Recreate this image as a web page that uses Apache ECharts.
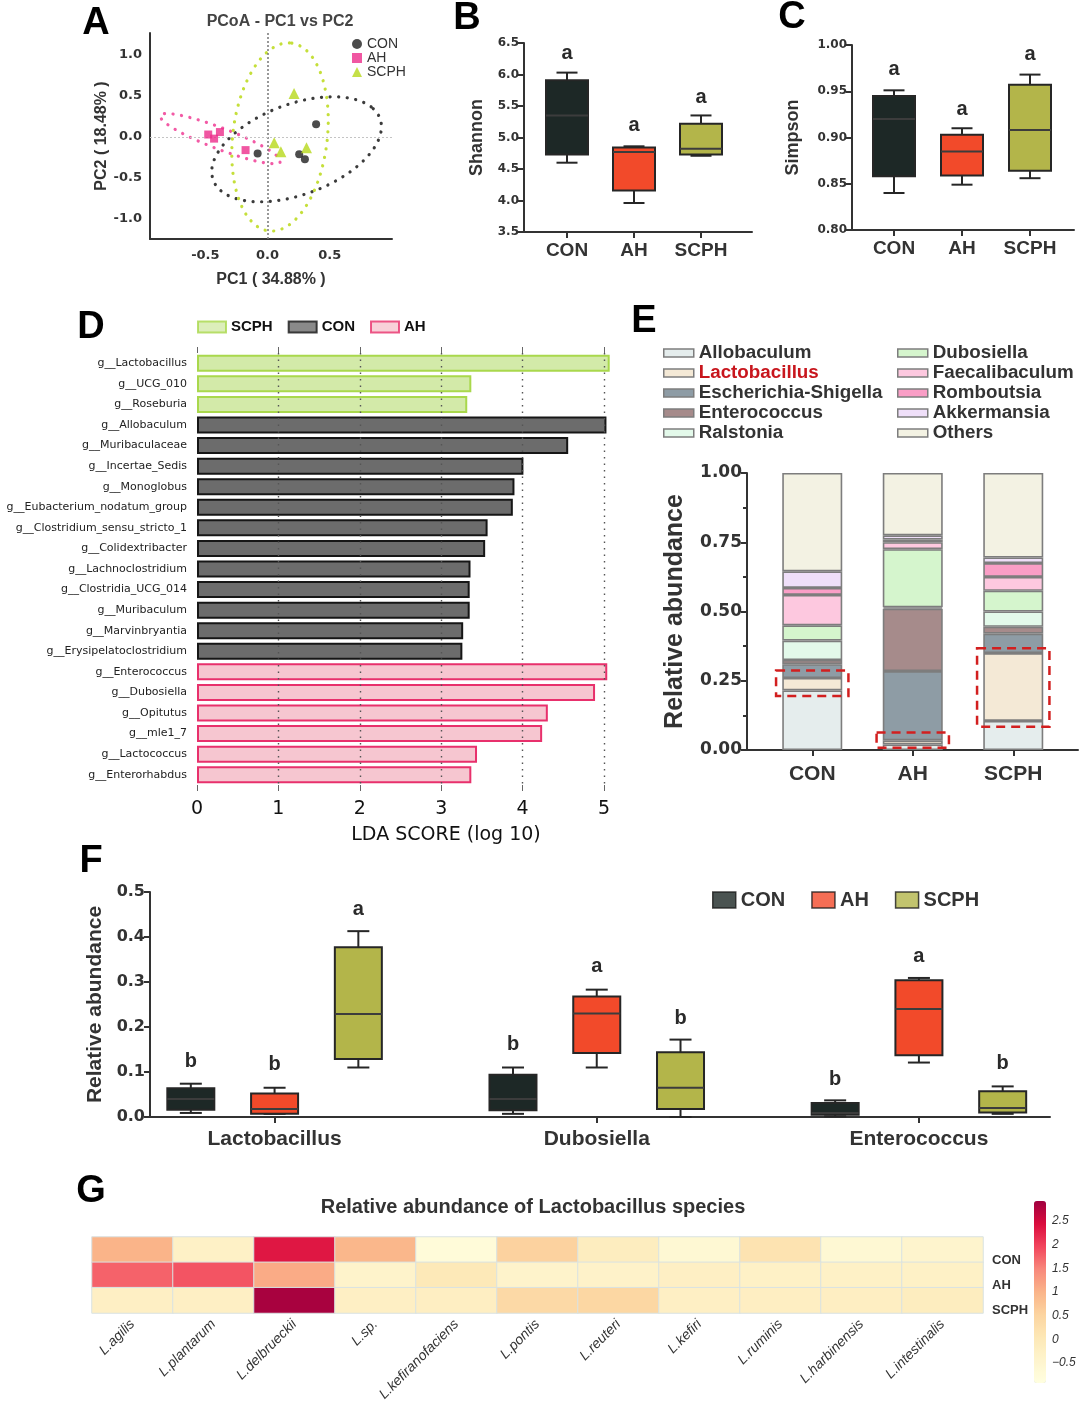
<!DOCTYPE html>
<html><head><meta charset="utf-8">
<script src="https://cdn.jsdelivr.net/npm/echarts@6/dist/echarts.min.js"></script>
<style>html,body{margin:0;padding:0;background:#fff}#c{width:1080px;height:1407px}</style>
</head><body><div id="c"></div>
<script>
// ================= DATA =================
const groups = ['CON', 'AH', 'SCPH'];

// A: PCoA sample scores [PC1, PC2]
const pcoaCON = [[0.39, 0.155], [-0.08, -0.20], [0.254, -0.21], [0.30, -0.27]];
const pcoaAH = [[-0.477, 0.03], [-0.43, -0.02], [-0.383, 0.06], [-0.177, -0.16]];
const pcoaSCPH = [[0.213, 0.53], [0.053, -0.07], [0.107, -0.18], [0.313, -0.13]];
// confidence ellipses: [centerX, centerY, semiMajor, semiMinor, angleDeg]
const ellipseCON = [0.233, -0.15, 0.792, 0.498, 40.8];
const ellipseAH = [-0.38, -0.02, 0.56, 0.12, -31];
const ellipseSCPH = [0.1, 0.0, 1.15, 0.381, 86.2];

// B: Shannon [min, q1, median, q3, max]
const shannonBox = [[4.60, 4.73, 5.35, 5.91, 6.03], [3.96, 4.16, 4.77, 4.84, 4.86], [4.71, 4.73, 4.82, 5.22, 5.35]];
const shannonLetters = ['a', 'a', 'a'];
const shannonLetterY = [6.34, 5.19, 5.64];
// C: Simpson
const simpsonBox = [[0.840, 0.858, 0.920, 0.945, 0.951], [0.849, 0.859, 0.885, 0.903, 0.910], [0.856, 0.864, 0.908, 0.957, 0.968]];
const simpsonLetters = ['a', 'a', 'a'];
const simpsonLetterY = [0.973, 0.930, 0.990];

// D: LEfSe LDA scores
const ldaTaxa = ['g__Lactobacillus', 'g__UCG_010', 'g__Roseburia', 'g__Allobaculum', 'g__Muribaculaceae', 'g__Incertae_Sedis',
  'g__Monoglobus', 'g__Eubacterium_nodatum_group', 'g__Clostridium_sensu_stricto_1', 'g__Colidextribacter', 'g__Lachnoclostridium',
  'g__Clostridia_UCG_014', 'g__Muribaculum', 'g__Marvinbryantia', 'g__Erysipelatoclostridium', 'g__Enterococcus', 'g__Dubosiella',
  'g__Opitutus', 'g__mle1_7', 'g__Lactococcus', 'g__Enterorhabdus'];
const ldaScores = [5.07, 3.37, 3.32, 5.03, 4.56, 4.01, 3.90, 3.88, 3.57, 3.54, 3.36, 3.35, 3.35, 3.27, 3.26, 5.04, 4.89, 4.31, 4.24, 3.44, 3.37];
const ldaGroup = ['SCPH', 'SCPH', 'SCPH', 'CON', 'CON', 'CON', 'CON', 'CON', 'CON', 'CON', 'CON', 'CON', 'CON', 'CON', 'CON',
  'AH', 'AH', 'AH', 'AH', 'AH', 'AH'];
const ldaLegend = ['SCPH', 'CON', 'AH'];
const ldaTicks = [0, 1, 2, 3, 4, 5];

// E: relative abundance at genus level (per genus, bottom to top)
const genera = ['Allobaculum', 'Lactobacillus', 'Escherichia-Shigella', 'Enterococcus', 'Ralstonia',
  'Dubosiella', 'Faecalibaculum', 'Romboutsia', 'Akkermansia', 'Others'];
const abundCON = [0.215, 0.045, 0.050, 0.015, 0.070, 0.055, 0.110, 0.025, 0.060, 0.355];
const abundAH = [0.020, 0.015, 0.250, 0.225, 0.005, 0.210, 0.025, 0.010, 0.015, 0.225];
const abundSCPH = [0.105, 0.245, 0.070, 0.025, 0.055, 0.075, 0.050, 0.050, 0.020, 0.305];
// Lactobacillus highlight boxes: [groupIndex, low, high]
const highlightBoxes = [[0, 0.195, 0.287], [1, 0.008, 0.063], [2, 0.084, 0.367]];

// F: relative abundance boxes [min, q1, median, q3, max] per genus
const fGenera = ['Lactobacillus', 'Dubosiella', 'Enterococcus'];
const fCON = [[0.009, 0.016, 0.040, 0.064, 0.074], [0.007, 0.015, 0.040, 0.094, 0.110], [0.0015, 0.005, 0.009, 0.031, 0.037]];
const fAH = [[0.007, 0.007, 0.018, 0.052, 0.065], [0.110, 0.142, 0.230, 0.268, 0.283], [0.121, 0.137, 0.240, 0.304, 0.309]];
const fSCPH = [[0.110, 0.129, 0.229, 0.377, 0.413], [0.000, 0.018, 0.065, 0.144, 0.172], [0.007, 0.010, 0.020, 0.057, 0.068]];
const fLettersCON = ['b', 'b', 'b'];
const fLettersAH = ['b', 'a', 'a'];
const fLettersSCPH = ['a', 'b', 'b'];
const fLetterYCON = [0.124, 0.161, 0.083];
const fLetterYAH = [0.116, 0.335, 0.357];
const fLetterYSCPH = [0.462, 0.220, 0.118];

// G: heatmap (z-scores)
const species = ['L.agilis', 'L.plantarum', 'L.delbrueckii', 'L.sp.', 'L.kefiranofaciens', 'L.pontis', 'L.reuteri',
  'L.kefiri', 'L.ruminis', 'L.harbinensis', 'L.intestinalis'];
const heatRows = ['CON', 'AH', 'SCPH'];
const heatCON = [1.0, -0.3, 2.35, 0.95, -0.75, 0.55, -0.15, -0.6, 0.15, -0.6, -0.45];
const heatAH = [1.75, 1.85, 1.1, -0.4, 0.0, -0.4, -0.35, -0.25, -0.3, -0.3, -0.3];
const heatSCPH = [-0.25, -0.25, 2.85, -0.25, -0.2, 0.4, 0.45, -0.25, -0.2, -0.2, -0.15];
const heatMin = -0.92, heatMax = 2.92;

// ================= STYLE =================
const FA = '"Liberation Sans", Arial, sans-serif';
const FD = '"DejaVu Sans", sans-serif';
const groupColors = ['#1d2826', '#f24a2a', '#b3b54a'];
const ldaStyles = {
  SCPH: { color: '#d3eaa9', borderColor: '#a9d84c' },
  CON: { color: '#6c6c6c', borderColor: '#161616' },
  AH: { color: '#f6c6d0', borderColor: '#e8306c' }
};
const generaColors = ['#e5eded', '#f4e9d6', '#8e9ca5', '#a68b8b', '#e3f9ea', '#d5f5cd', '#fdc8df', '#fa9ec6', '#efdff9', '#f3f2e3'];
const heatColors = ['#ffffe0', '#fef4cd', '#fde8b6', '#fcd4a0', '#fab489', '#f8887b', '#f2445c', '#da0c3d', '#a0003f'];
const AX = '#333';

// ================= HELPERS =================
function ellipsePts(p) {
  const [cx, cy, a, b, deg] = p, th = deg * Math.PI / 180, pts = [];
  for (let k = 0; k <= 144; k++) {
    const t = 2 * Math.PI * k / 144;
    pts.push([cx + a * Math.cos(t) * Math.cos(th) - b * Math.sin(t) * Math.sin(th),
              cy + a * Math.cos(t) * Math.sin(th) + b * Math.sin(t) * Math.cos(th)]);
  }
  return pts;
}
function boxRender(colors, offset, boxW, capW) {
  return function (params, api) {
    const ci = api.value(0);
    const band = api.size([1, 0])[0];
    const x = api.coord([ci, api.value(3)])[0] + offset * band;
    const y = v => api.coord([ci, v])[1];
    const lo = y(api.value(1)), q1 = y(api.value(2)), md = y(api.value(3)), q3 = y(api.value(4)), hi = y(api.value(5));
    const fill = Array.isArray(colors) ? colors[params.dataIndex] : colors;
    const st = { stroke: '#262626', lineWidth: 2 };
    return { type: 'group', children: [
      { type: 'line', shape: { x1: x, y1: hi, x2: x, y2: q3 }, style: st },
      { type: 'line', shape: { x1: x, y1: q1, x2: x, y2: lo }, style: st },
      { type: 'line', shape: { x1: x - capW / 2, y1: hi, x2: x + capW / 2, y2: hi }, style: st },
      { type: 'line', shape: { x1: x - capW / 2, y1: lo, x2: x + capW / 2, y2: lo }, style: st },
      { type: 'rect', shape: { x: x - boxW / 2, y: q3, width: boxW, height: Math.max(q1 - q3, 1) }, style: { fill: fill, stroke: '#262626', lineWidth: 2 } },
      { type: 'line', shape: { x1: x - boxW / 2, y1: md, x2: x + boxW / 2, y2: md }, style: { stroke: '#3c3c3c', lineWidth: 2 } }
    ] };
  };
}
function letterRender(letters, offset, size) {
  return function (params, api) {
    const ci = api.value(0);
    const band = api.size([1, 0])[0];
    const p = api.coord([ci, api.value(1)]);
    return { type: 'text', x: p[0] + offset * band, y: p[1],
      style: { text: letters[params.dataIndex], fontSize: size, fontWeight: 'bold', fontFamily: FA, fill: '#2a2a2a', align: 'center', verticalAlign: 'middle' } };
  };
}
function lineOnlyX(grid) {
  return { gridIndex: grid, type: 'value', min: 0, max: 1, axisLine: { show: true, onZero: false, lineStyle: { color: AX, width: 2 } },
    axisTick: { show: false }, axisLabel: { show: false }, splitLine: { show: false } };
}
function catX(grid, data, fs, margin) {
  return { gridIndex: grid, type: 'category', data: data, axisLine: { show: false },
    axisTick: { show: true, alignWithLabel: true, length: 6, lineStyle: { color: AX, width: 2 } },
    axisLabel: { fontFamily: FA, fontWeight: 'bold', fontSize: fs, color: AX, margin: margin, interval: 0 }, splitLine: { show: false } };
}
function valY(grid, min, max, interval, dec, name, lfs, nfs, gap, extra) {
  return Object.assign({ gridIndex: grid, type: 'value', min: min, max: max, interval: interval,
    axisLine: { show: true, onZero: false, lineStyle: { color: AX, width: 2 } },
    axisTick: { show: true, length: 6, lineStyle: { color: AX, width: 2 } },
    splitLine: { show: false },
    axisLabel: { fontFamily: FD, fontWeight: 'bold', fontSize: lfs, color: AX, margin: 5, formatter: v => v.toFixed(dec) },
    name: name, nameLocation: 'middle', nameGap: gap,
    nameTextStyle: { fontFamily: FA, fontWeight: 'bold', fontSize: nfs, color: AX } }, extra || {});
}
function hiddenY(grid, min, max) { return { gridIndex: grid, type: 'value', min: min, max: max, show: false }; }

// ================= SERIES =================
const series = [];
// A
[[ellipseCON, '#3b3b3b'], [ellipseAH, '#f25aa5'], [ellipseSCPH, '#c5df3a']].forEach(([p, c], i) => {
  series.push({ type: 'line', name: 'ellipse' + i, xAxisIndex: 0, yAxisIndex: 0, data: ellipsePts(p), showSymbol: false, symbol: 'none',
    silent: true, clip: false, z: 1, lineStyle: { color: c, width: 3.2, type: [0.1, 8.5], cap: 'round' } });
});
series.push({ type: 'scatter', name: 'CON', xAxisIndex: 0, yAxisIndex: 0, data: pcoaCON, symbol: 'circle', symbolSize: 8,
  itemStyle: { color: '#1f1f1f' }, z: 5,
  markLine: { silent: true, symbol: ['none', 'none'], label: { show: false }, animation: false,
    data: [{ xAxis: 0, lineStyle: { type: [2, 2], color: '#777', width: 1.5 } }, { yAxis: 0, lineStyle: { type: [2, 2], color: '#c4c4c4', width: 1.2 } }] } });
series.push({ type: 'scatter', name: 'AH', xAxisIndex: 0, yAxisIndex: 0, data: pcoaAH, symbol: 'rect', symbolSize: 8, itemStyle: { color: '#ec2d8b' }, z: 5 });
series.push({ type: 'scatter', name: 'SCPH', xAxisIndex: 0, yAxisIndex: 0, data: pcoaSCPH, symbol: 'triangle', symbolSize: 11, itemStyle: { color: '#b6d81a' }, z: 5 });

// B
series.push({ type: 'custom', name: 'Shannon', xAxisIndex: 2, yAxisIndex: 2, data: shannonBox.map((b, i) => [i, ...b]),
  encode: { x: 0, y: [1, 2, 3, 4, 5] }, renderItem: boxRender(groupColors, 0, 42, 21) });
series.push({ type: 'custom', name: 'ShannonLetters', xAxisIndex: 2, yAxisIndex: 2, data: shannonLetterY.map((v, i) => [i, v]),
  encode: { x: 0, y: 1 }, renderItem: letterRender(shannonLetters, 0, 20) });
// C
series.push({ type: 'custom', name: 'Simpson', xAxisIndex: 4, yAxisIndex: 4, data: simpsonBox.map((b, i) => [i, ...b]),
  encode: { x: 0, y: [1, 2, 3, 4, 5] }, renderItem: boxRender(groupColors, 0, 42, 21) });
series.push({ type: 'custom', name: 'SimpsonLetters', xAxisIndex: 4, yAxisIndex: 4, data: simpsonLetterY.map((v, i) => [i, v]),
  encode: { x: 0, y: 1 }, renderItem: letterRender(simpsonLetters, 0, 20) });

// D
ldaLegend.forEach((g, gi) => {
  const s = { type: 'bar', name: g, xAxisIndex: 5, yAxisIndex: 5, stack: 'lda', barWidth: 17, clip: false,
    data: ldaTaxa.map((t, i) => ldaGroup[i] === g ? ldaScores[i] : null),
    itemStyle: Object.assign({ borderWidth: 2 }, ldaStyles[g]) };
  if (gi === 0) {
    s.markLine = { silent: true, symbol: ['none', 'none'], label: { show: false }, animation: false, z: 10,
      lineStyle: { type: [1.5, 5], color: '#555', width: 1.4 },
      data: ldaTicks.slice(1).map(v => ({ xAxis: v })) };
  }
  series.push(s);
});

// E
genera.forEach((g, k) => {
  series.push({ type: 'bar', name: g, stack: 'abund', xAxisIndex: 8, yAxisIndex: 7, barWidth: 60,
    data: [abundCON[k], abundAH[k], abundSCPH[k]],
    itemStyle: { color: generaColors[k], borderColor: '#7d7d7d', borderWidth: 1.6 } });
});
series.push({ type: 'custom', name: 'highlight', xAxisIndex: 8, yAxisIndex: 7, data: highlightBoxes, encode: { x: 0, y: [1, 2] }, z: 10,
  renderItem: (params, api) => {
    const ci = api.value(0);
    const pHi = api.coord([ci, api.value(2)]), pLo = api.coord([ci, api.value(1)]);
    const w = api.size([1, 0])[0] * 0.72;
    return { type: 'rect', shape: { x: pHi[0] - w / 2, y: pHi[1], width: w, height: pLo[1] - pHi[1] },
      style: { fill: 'none', stroke: '#d21f1f', lineWidth: 2.5, lineDash: [9, 6] } };
  } });

// F
const fSets = [['CON', fCON, fLettersCON, fLetterYCON, -0.26], ['AH', fAH, fLettersAH, fLetterYAH, 0], ['SCPH', fSCPH, fLettersSCPH, fLetterYSCPH, 0.26]];
fSets.forEach(([name, boxes, letters, ly, off], gi) => {
  series.push({ type: 'custom', name: name, xAxisIndex: 10, yAxisIndex: 9, data: boxes.map((b, i) => [i, ...b]),
    encode: { x: 0, y: [1, 2, 3, 4, 5] }, renderItem: boxRender(groupColors[gi], off, 47, 22) });
  series.push({ type: 'custom', name: name + 'Letters', xAxisIndex: 10, yAxisIndex: 9, data: ly.map((v, i) => [i, v]),
    encode: { x: 0, y: 1 }, renderItem: letterRender(letters, off, 20) });
});

// G
const heatIndex = series.length;
const heatData = [];
[heatCON, heatAH, heatSCPH].forEach((row, r) => row.forEach((v, c) => heatData.push([c, r, v])));
series.push({ type: 'heatmap', name: 'heat', xAxisIndex: 11, yAxisIndex: 10, data: heatData,
  itemStyle: { borderColor: '#d9e2e2', borderWidth: 1 } });

// ================= OPTION =================
const letterStyle = { fontSize: 38, fontWeight: 'bold', fontFamily: FA, fill: '#000', align: 'center', verticalAlign: 'middle' };
const option = {
  animation: false,
  backgroundColor: '#fff',
  grid: [
    { left: 150, top: 33, width: 242, height: 206 },      // 0 A
    { left: 524, top: 43, width: 228, height: 189 },      // 1 B line
    { left: 533.5, top: 43, width: 201, height: 189 },    // 2 B cat
    { left: 852, top: 45, width: 222, height: 185 },      // 3 C line
    { left: 860, top: 45, width: 204, height: 185 },      // 4 C cat
    { left: 197, top: 353, width: 407, height: 432 },     // 5 D
    { left: 747, top: 473, width: 331, height: 277 },     // 6 E line
    { left: 762, top: 473, width: 301.5, height: 277 },   // 7 E cat
    { left: 150, top: 892, width: 900, height: 225 },     // 8 F line
    { left: 113.5, top: 892, width: 975, height: 225 },   // 9 F cat
    { left: 92, top: 1237, width: 891, height: 76 },      // 10 G heat
    { left: 1034, top: 1201, width: 12, height: 182 }     // 11 colorbar labels
  ],
  xAxis: [
    { gridIndex: 0, type: 'value', min: -0.945, max: 1.0, minInterval: 0.5, maxInterval: 0.5, splitLine: { show: false },
      axisTick: { show: false }, axisLine: { onZero: false, lineStyle: { color: AX, width: 2 } },
      axisLabel: { fontFamily: FD, fontWeight: 'bold', fontSize: 13, color: AX, margin: 10, showMinLabel: false, showMaxLabel: false, formatter: v => v.toFixed(1) },
      name: 'PC1 ( 34.88% )', nameLocation: 'middle', nameGap: 33, nameTextStyle: { fontFamily: FA, fontWeight: 'bold', fontSize: 16, color: AX } },
    lineOnlyX(1),
    catX(2, groups, 19, 9),
    lineOnlyX(3),
    catX(4, groups, 19, 9),
    { gridIndex: 5, type: 'value', min: ldaTicks[0], max: ldaTicks[ldaTicks.length - 1], interval: 1, axisLine: { show: false },
      axisTick: { show: true, length: 6, lineStyle: { color: '#666' } },
      axisLabel: { fontFamily: FD, fontSize: 19, color: '#111', margin: 15 },
      splitLine: { show: false } },
    { gridIndex: 5, type: 'value', position: 'top', min: ldaTicks[0], max: ldaTicks[ldaTicks.length - 1], interval: 1, axisLine: { show: false },
      axisTick: { show: true, length: 6, lineStyle: { color: '#666' } }, axisLabel: { show: false }, splitLine: { show: false } },
    lineOnlyX(6),
    catX(7, groups, 21, 14),
    lineOnlyX(8),
    catX(9, fGenera, 21, 12),
    { gridIndex: 10, type: 'category', data: species, axisLine: { show: false }, axisTick: { show: false }, splitLine: { show: false },
      axisLabel: { rotate: 45, fontFamily: FA, fontStyle: 'italic', fontSize: 14, color: '#333', margin: 9, interval: 0 } },
    { gridIndex: 11, type: 'value', show: false }
  ],
  yAxis: [
    { gridIndex: 0, type: 'value', min: -1.244, max: 1.268, minInterval: 0.5, maxInterval: 0.5, splitLine: { show: false },
      axisTick: { show: false }, axisLine: { onZero: false, lineStyle: { color: AX, width: 2 } },
      axisLabel: { fontFamily: FD, fontWeight: 'bold', fontSize: 13, color: AX, margin: 8, showMinLabel: false, showMaxLabel: false, formatter: v => v.toFixed(1) },
      name: 'PC2 ( 18.48% )', nameLocation: 'middle', nameGap: 27, nameTextStyle: { fontFamily: FA, fontWeight: 'bold', fontSize: 16, color: AX } },
    valY(1, 3.5, 6.5, 0.5, 1, 'Shannon', 12, 18, 38),
    hiddenY(2, 3.5, 6.5),
    valY(3, 0.8, 1.0, 0.05, 2, 'Simpson', 12, 18, 50),
    hiddenY(4, 0.8, 1.0),
    { gridIndex: 5, type: 'category', data: ldaTaxa, inverse: true, axisLine: { show: false }, axisTick: { show: false },
      axisLabel: { fontFamily: FD, fontSize: 11, color: '#222', margin: 10, interval: 0 } },
    valY(6, 0, 1, 0.25, 2, 'Relative abundance', 17, 25, 59,
      { minorTick: { show: true, splitNumber: 2, length: 4, lineStyle: { color: AX, width: 2 } } }),
    hiddenY(7, 0, 1),
    valY(8, 0, 0.5, 0.1, 1, 'Relative abundance', 16, 21, 42),
    hiddenY(9, 0, 0.5),
    { gridIndex: 10, type: 'category', data: heatRows, inverse: true, position: 'right', axisLine: { show: false }, axisTick: { show: false },
      axisLabel: { fontFamily: FA, fontWeight: 'bold', fontSize: 13, color: '#333', margin: 9, verticalAlign: 'top', padding: [4, 0, 0, 0] } },
    { gridIndex: 11, type: 'value', min: heatMin, max: heatMax, splitNumber: 8, minInterval: 0.5, maxInterval: 0.5, position: 'right',
      axisLine: { show: false }, axisTick: { show: false }, splitLine: { show: false },
      axisLabel: { showMinLabel: false, showMaxLabel: false, fontStyle: 'italic', fontFamily: FA, fontSize: 12, color: '#333', margin: 6,
        formatter: v => v < 0 ? '\u2212' + Math.abs(v) : String(v) } }
  ],
  visualMap: [{ type: 'continuous', seriesIndex: heatIndex, min: heatMin, max: heatMax, inRange: { color: heatColors },
    left: 1034, top: 1201, itemWidth: 12, itemHeight: 182, orient: 'vertical', calculable: false, text: null, padding: 0,
    hoverLink: false, realtime: false }],
  legend: [
    { selectedMode: false, orient: 'vertical', left: 352, top: 37, padding: 0, itemWidth: 10, itemHeight: 10, itemGap: 0,
      textStyle: { fontFamily: FA, fontSize: 14, color: AX, lineHeight: 14 },
      data: [{ name: 'CON', icon: 'circle', itemStyle: { color: '#1f1f1f' } },
             { name: 'AH', icon: 'rect', itemStyle: { color: '#ec2d8b' } },
             { name: 'SCPH', icon: 'triangle', itemStyle: { color: '#b6d81a' } }] },
    { selectedMode: false, orient: 'horizontal', left: 197, top: 319, padding: 0, itemWidth: 28, itemHeight: 11, itemGap: 15,
      textStyle: { fontFamily: FA, fontWeight: 'bold', fontSize: 15, color: '#111', lineHeight: 16 },
      data: ldaLegend.map(g => ({ name: g, icon: 'rect', itemStyle: Object.assign({ borderWidth: 2 }, ldaStyles[g]) })) },
    { selectedMode: false, orient: 'vertical', left: 663, top: 343, padding: 0, itemWidth: 30, itemHeight: 8, itemGap: 0,
      textStyle: { fontFamily: FA, fontWeight: 'bold', fontSize: 18.8, color: AX, lineHeight: 20 },
      data: genera.slice(0, 5).map((g, k) => ({ name: g, icon: 'rect', itemStyle: { color: generaColors[k], borderColor: '#7d7d7d', borderWidth: 1.5 },
        textStyle: g === 'Lactobacillus' ? { color: '#c8161d' } : undefined })) },
    { selectedMode: false, orient: 'vertical', left: 897, top: 343, padding: 0, itemWidth: 30, itemHeight: 8, itemGap: 0,
      textStyle: { fontFamily: FA, fontWeight: 'bold', fontSize: 18.8, color: AX, lineHeight: 20 },
      data: genera.slice(5).map((g, k) => ({ name: g, icon: 'rect', itemStyle: { color: generaColors[k + 5], borderColor: '#7d7d7d', borderWidth: 1.5 } })) },
    { selectedMode: false, orient: 'horizontal', left: 712, top: 889, padding: 0, itemWidth: 23, itemHeight: 16, itemGap: 26,
      textStyle: { fontFamily: FA, fontWeight: 'bold', fontSize: 20, color: AX, lineHeight: 22 },
      data: groups.map((g, i) => ({ name: g, icon: 'rect', itemStyle: { color: groupColors[i], borderColor: '#1a1a1a', borderWidth: 1.5 } })) }
  ],
  graphic: [
    { type: 'text', x: 96, y: 24, style: Object.assign({ text: 'A' }, letterStyle) },
    { type: 'text', x: 467, y: 19, style: Object.assign({ text: 'B' }, letterStyle) },
    { type: 'text', x: 792, y: 18, style: Object.assign({ text: 'C' }, letterStyle) },
    { type: 'text', x: 91, y: 328, style: Object.assign({ text: 'D' }, letterStyle) },
    { type: 'text', x: 644, y: 322, style: Object.assign({ text: 'E' }, letterStyle) },
    { type: 'text', x: 91, y: 862, style: Object.assign({ text: 'F' }, letterStyle) },
    { type: 'text', x: 91, y: 1192, style: Object.assign({ text: 'G' }, letterStyle) },
    { type: 'text', x: 280, y: 22, style: { text: 'PCoA - PC1 vs PC2', fontSize: 16, fontWeight: 'bold', fontFamily: FA, fill: '#444', align: 'center', verticalAlign: 'middle' } },
    { type: 'text', x: 446, y: 835, style: { text: 'LDA SCORE (log 10)', fontSize: 19, fontFamily: FD, fill: '#111', align: 'center', verticalAlign: 'middle' } },
    { type: 'text', x: 533, y: 1207, style: { text: 'Relative abundance of Lactobacillus species', fontSize: 20, fontWeight: 'bold', fontFamily: FA, fill: '#333', align: 'center', verticalAlign: 'middle' } }
  ],
  series: series
};
const chart = echarts.init(document.getElementById('c'));
chart.setOption(option);
</script>
</body></html>
